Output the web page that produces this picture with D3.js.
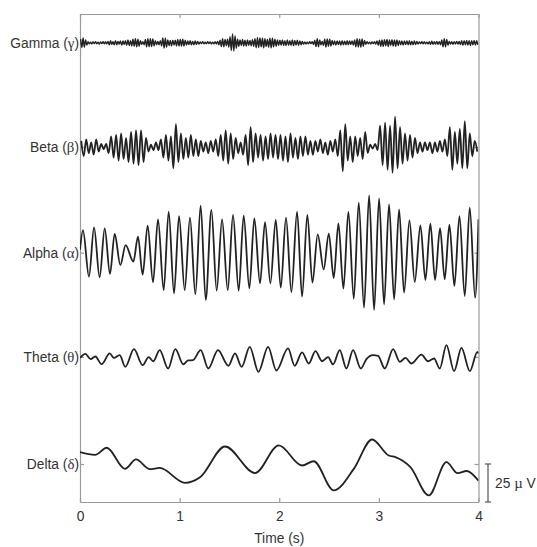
<!DOCTYPE html>
<html>
<head>
<meta charset="utf-8">
<script src="https://cdn.jsdelivr.net/npm/d3@7"></script>
<style>
  body { margin: 0; background: #fff; }
  svg text { font-family: "Liberation Sans", Arial, sans-serif; fill: #333; }
  .greek { font-family: "Liberation Serif", "DejaVu Serif", serif; }
</style>
</head>
<body>
<div id="chart"></div>
<script>
// band names, greek symbols and vertical offsets (µV) of each trace
const bandNames = ["Gamma", "Beta", "Alpha", "Theta", "Delta"];
const bandSymbols = ["γ", "β", "α", "θ", "δ"];
const bandOffsets = [277, 208.5, 139, 70.5, 0];
const timeTicks = [0, 1, 2, 3, 4];
const scaleBarValue = 25;

// gamma: extrema (µV) every 12.5 ms starting at 6.25 ms
const gammaStep = 0.0125;
const gammaValues = [
  2.5,-3,3.2,-2.8,2,-1.5,0.8,-0.6,0.5,-0.7,0.6,-0.5,0.7,-0.6,0.5,-0.8,0.6,-0.5,0.7,-0.6,0.8,-0.7,1,-1.2,1.4,-1,0.8,-1.3,1.5,-1.2,1,-0.8,1.3,-1.5,1.2,-1,1.4,-1.6,2,-1.8,
  1.5,-2,2.4,-2.2,2.8,-2.6,2.5,-2.2,1.5,-1,0.8,-1.2,2.2,-2.6,2.8,-2.5,2.7,-2.4,2.6,-2,1.5,-1.2,1,-1.2,1.5,-2,3.2,-3.4,3,-2.8,2,-1.8,1.6,-1.9,1.7,-1.5,1.8,-2,2.2,-2,
  2.3,-2.1,2.4,-2,1.8,-1.5,1.3,-1.1,1.4,-1.2,1,-1.3,1.2,-1,0.9,-0.8,0.6,-0.5,0.7,-0.6,0.5,-0.6,0.7,-0.5,0.6,-0.7,0.5,-0.6,0.8,-0.7,1,-1.2,1.8,-2.4,2.8,-2.6,2.2,-1.8,2.4,-2.8,
  4,-5,5.8,-5.4,4.5,-3.5,2.5,-2.2,2,-1.8,2.3,-2,1.8,-2.1,2,-1.7,1.6,-1.9,2.1,-2.2,2.8,-3.2,3.4,-3,3.2,-2.6,3,-3.3,2.8,-2.4,2.2,-2.8,3.1,-3.3,3,-2.6,2.4,-2.2,2,-1.8,
  1.8,-1.6,1.9,-1.7,1.5,-1.8,2,-1.6,1.4,-1.7,1.9,-1.8,1.6,-1.5,1.8,-1.7,1.3,-1.2,1,-0.8,0.6,-0.7,0.5,-0.6,0.7,-0.5,0.8,-1,1.8,-2.4,2.8,-2.6,2,-1.2,1,-1.6,2.4,-2.8,2.6,-2.2,
  2.4,-2,1.6,-1.3,1.2,-1.4,1.3,-1.1,1.2,-1.4,1.5,-1.3,1.1,-1.2,1.4,-1.3,1.2,-1,1.3,-1.5,2,-2.6,2.8,-2.7,2.5,-2.8,2.6,-2.2,1.6,-1,0.7,-0.6,0.5,-0.7,0.6,-0.5,0.7,-0.8,1.2,-1.6,
  1.8,-2.2,2,-2.3,2.1,-1.9,2.2,-2.4,2,-1.8,2.1,-2,1.9,-2.2,2,-1.7,1.5,-1.3,1.2,-1.4,1.3,-1.1,1.2,-1.3,1.4,-1.2,1,-1.3,1.2,-1.1,0.9,-0.7,0.6,-0.5,0.7,-0.6,0.8,-0.6,0.5,-0.7,
  0.8,-1,1.1,-0.9,0.7,-0.8,1,-0.9,0.8,-1.2,2,-2.6,2.8,-2.6,2.2,-1.6,0.9,-0.8,0.7,-0.9,0.8,-0.7,0.9,-0.8,1,-1.1,1.4,-1.6,1.5,-1.3,1.6,-1.5,1.4,-1.7,1.5,-1.3,1.6,-1.4,1.5,-1.3
];

// beta: extrema (µV) every 25 ms starting at 12.5 ms
const betaStep = 0.025;
const betaValues = [
  4,-6,5,-4,3,-5,5,-3,2,-1.5,
  2,-4,7,-7,8,-9,9,-8,6,-10,
  10,-11,11,-12,11,-10,6,-3,1.5,-2,
  3,-2,5,-7,8,-9,7,-14,15,-10,
  9,-8,6,-7,8,-6,5,-6,4,-3,
  3,-4,4,-3,5,-6,8,-9,11,-11,
  9,-8,6,-4,3,-5,8,-12,13,-10,
  9,-7,8,-9,7,-8,9,-7,8,-8,
  8,-9,7,-10,9,-7,6,-8,7,-6,
  7,-5,4,-5,4,-3,5,-4,3,-5,
  4,-3,5,-6,11,-16,15,-9,7,-10,
  7,-6,6,-8,10,-4,1.5,-1,2,-2,
  14,-12,16,-15,14,-17,20,-14,13,-11,
  9,-9,8,-7,6,-4,3,-3,3,-2,
  3,-4,3,-3,4,-3,5,-6,13,-15,
  10,-11,12,-14,17,-14,9,-6,4,-3
];

// alpha: [time s, µV]
const alphaPoints = [
  [0,2],[0.030,14.9],[0.090,-15.8],[0.141,16.7],[0.197,-16.2],[0.248,16.0],[0.301,-14.0],[0.348,12.3],
  [0.405,-8.1],[0.458,5.0],[0.536,-5.9],[0.582,10.5],[0.629,-14.5],[0.679,17.8],[0.733,-19.5],[0.783,21.9],
  [0.840,-24.6],[0.890,27.0],[0.944,-26.8],[0.994,24.1],[1.051,-24.6],[1.104,23.0],[1.158,-27.4],[1.211,30.9],
  [1.262,-31.1],[1.319,28.1],[1.372,-25.0],[1.426,21.9],[1.483,-24.6],[1.536,24.8],[1.593,-25.0],[1.643,24.3],
  [1.700,-23.5],[1.750,22.6],[1.807,-20.2],[1.857,20.0],[1.911,-20.2],[1.965,21.5],[2.015,-23.0],[2.068,23.0],
  [2.122,-25.9],[2.179,27.0],[2.229,-28.9],[2.282,24.8],[2.333,-19.7],[2.386,12.1],[2.446,-11.0],[2.497,12.5],
  [2.547,-16.7],[2.594,19.3],[2.644,-23.7],[2.694,26.8],[2.748,-30.3],[2.798,32.9],[2.851,-36.2],[2.902,37.7],
  [2.952,-37.7],[3.002,35.7],[3.052,-34.0],[3.102,31.8],[3.153,-30.7],[3.203,28.5],[3.253,-26.3],[3.307,21.3],
  [3.360,-19.3],[3.417,18.0],[3.467,-18.0],[3.517,19.1],[3.564,-18.0],[3.614,16.2],[3.661,-17.5],[3.708,18.4],
  [3.758,-21.9],[3.809,24.1],[3.862,-28.5],[3.912,29.6],[3.966,-29.6],[4.0,22]
];

// theta: [time s, µV]
const thetaPoints = [
  [0,-0.7],[0.054,2.0],[0.107,-1.5],[0.154,0.2],[0.217,-4.8],[0.298,2.2],[0.341,-0.7],[0.398,1.1],
  [0.455,-6.6],[0.542,5.0],[0.629,-5.5],[0.689,-0.2],[0.736,-2.9],[0.800,4.4],[0.884,-7.7],[0.957,5.0],
  [1.037,-5.0],[1.084,-2.4],[1.134,-2.2],[1.211,4.4],[1.288,-7.7],[1.385,4.4],[1.489,-5.9],[1.556,2.2],
  [1.623,-6.6],[1.704,6.6],[1.791,-9.9],[1.888,6.6],[1.971,-9.0],[2.088,5.5],[2.155,-5.9],[2.229,2.9],
  [2.296,-4.4],[2.363,3.7],[2.430,-2.9],[2.490,-0.2],[2.540,-5.0],[2.607,4.4],[2.674,-7.7],[2.741,4.4],
  [2.818,-7.7],[2.875,-1.5],[2.942,1.1],[2.992,0.7],[3.059,-7.7],[3.143,5.0],[3.210,-3.3],[3.267,-0.7],
  [3.327,-4.4],[3.427,1.5],[3.494,-2.9],[3.554,-1.1],[3.611,-7.7],[3.678,7.7],[3.755,-9.4],[3.829,5.9],
  [3.913,-9.4],[3.989,3.3],[4.0,2]
];

// delta: [time s, µV]
const deltaPoints = [
  [0,7.8],[0.151,6.0],[0.268,10.7],[0.452,-3.2],[0.562,3.0],[0.703,-3.4],[0.80,-2.6],[1.054,-12.4],
  [1.205,-8.7],[1.456,11.5],[1.757,-6.0],[1.995,12.2],[2.229,-1.0],[2.346,1.8],[2.547,-17.4],[2.748,-3.2],
  [2.932,16.1],[3.099,5.6],[3.166,4.5],[3.317,-2.1],[3.501,-20.7],[3.678,1.2],[3.79,-6.0],[3.88,-4.6],[4.0,-10.9]
];

const width = 537, height = 547;
const margin = { top: 14, right: 58.5, bottom: 45, left: 80 };
const fontSize = 13.8;

const svg = d3.select("#chart").append("svg")
  .attr("width", width)
  .attr("height", height);

const x = d3.scaleLinear().domain([0, 4]).range([margin.left, width - margin.right]);
const y = d3.scaleLinear().domain([-25, 296]).range([height - margin.bottom, margin.top]);

// frame with inward ticks on all four sides
const axisColor = "#9a9a9a";
function styleAxis(g) {
  g.selectAll("path, line").attr("stroke", axisColor).attr("stroke-width", 1.2);
  g.selectAll("text").attr("font-size", fontSize).attr("fill", "#333");
}
svg.append("g")
  .attr("transform", `translate(0,${y(-25)})`)
  .call(d3.axisBottom(x).tickValues(timeTicks).tickFormat(d3.format("d")).tickSize(-4).tickSizeOuter(0).tickPadding(9))
  .call(styleAxis);
svg.append("g")
  .attr("transform", `translate(0,${y(296)})`)
  .call(d3.axisTop(x).tickValues(timeTicks).tickFormat("").tickSize(-4).tickSizeOuter(0))
  .call(styleAxis);
svg.append("g")
  .attr("transform", `translate(${x(0)},0)`)
  .call(d3.axisLeft(y).tickValues(bandOffsets).tickFormat("").tickSize(-4).tickSizeOuter(0))
  .call(styleAxis);
svg.append("g")
  .attr("transform", `translate(${x(4)},0)`)
  .call(d3.axisRight(y).tickValues(bandOffsets).tickFormat("").tickSize(-4).tickSizeOuter(0))
  .call(styleAxis);

svg.append("text")
  .attr("x", x(2))
  .attr("y", height - 4)
  .attr("text-anchor", "middle")
  .attr("font-size", fontSize)
  .text("Time (s)");

// band labels on the left
const labels = svg.selectAll(".band-label")
  .data(bandNames)
  .join("text")
  .attr("class", "band-label")
  .attr("x", x(0) - 1)
  .attr("y", (d, i) => y(bandOffsets[i]))
  .attr("dy", "0.35em")
  .attr("text-anchor", "end")
  .attr("font-size", fontSize);
labels.append("tspan").text(d => d + " (");
labels.append("tspan").attr("class", "greek").attr("font-size", fontSize + 1).text((d, i) => bandSymbols[i]);
labels.append("tspan").text(")");

// traces
const series = [
  gammaValues.map((v, i) => [gammaStep / 2 + i * gammaStep, v]),
  betaValues.map((v, i) => [betaStep / 2 + i * betaStep, v]),
  alphaPoints,
  thetaPoints,
  deltaPoints
];

svg.append("clipPath").attr("id", "plot-clip")
  .append("rect")
  .attr("x", x(0)).attr("y", y(296))
  .attr("width", x(4) - x(0)).attr("height", y(-25) - y(296));

const traces = svg.append("g").attr("clip-path", "url(#plot-clip)");
series.forEach((pts, i) => {
  const line = d3.line()
    .x(d => x(d[0]))
    .y(d => y(bandOffsets[i] + d[1]))
    .curve(d3.curveMonotoneX);
  traces.append("path")
    .datum(pts)
    .attr("fill", "none")
    .attr("stroke", "#222")
    .attr("stroke-width", i === 0 ? 1.4 : 1.8)
    .attr("stroke-linejoin", "round")
    .attr("d", line);
});

// 25 µV scale bar
const barX = x(4) + 9.5;
const bar = svg.append("g").attr("stroke", "#555").attr("stroke-width", 1.2);
bar.append("line").attr("x1", barX).attr("x2", barX).attr("y1", y(0)).attr("y2", y(-scaleBarValue));
bar.append("line").attr("x1", barX - 3).attr("x2", barX + 3).attr("y1", y(0)).attr("y2", y(0));
bar.append("line").attr("x1", barX - 3).attr("x2", barX + 3).attr("y1", y(-scaleBarValue)).attr("y2", y(-scaleBarValue));

const barLabel = svg.append("text")
  .attr("x", barX + 7)
  .attr("y", y(-scaleBarValue / 2))
  .attr("dy", "0.35em")
  .attr("font-size", fontSize);
barLabel.append("tspan").text(scaleBarValue + " ");
barLabel.append("tspan").attr("class", "greek").attr("font-size", fontSize + 1).text("µ");
barLabel.append("tspan").text(" V");
</script>
</body>
</html>
